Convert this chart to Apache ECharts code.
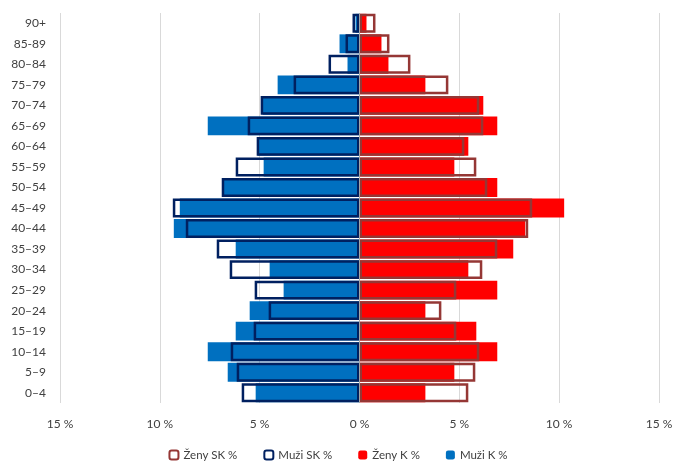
<!DOCTYPE html>
<html><head><meta charset="utf-8">
<script src="https://cdn.jsdelivr.net/npm/echarts@6/dist/echarts.min.js"></script>
<style>html,body{margin:0;padding:0;background:#fff}#c{width:676px;height:462px}</style>
</head><body><div id="c"></div>
<script>
const categories = ['0–4','5–9','10–14','15–19','20–24','25–29','30–34','35–39','40–44','45–49','50–54','55–59','60–64','65–69','70–74','75–79','80–84','85-89','90+'];
const muziK  = [5.2,6.6,7.6,6.2,5.5,3.8,4.5,6.2,9.3,9.0,6.8,4.8,5.1,7.6,4.85,4.1,0.6,1.0,0.2];
const muziSK = [5.9,6.15,6.45,5.3,4.55,5.25,6.5,7.15,8.7,9.35,6.9,6.2,5.15,5.6,4.95,3.3,1.55,0.7,0.35];
const zenyK  = [3.3,4.75,6.9,5.85,3.3,6.9,5.45,7.7,8.3,10.25,6.9,4.75,5.45,6.9,6.2,3.3,1.45,1.1,0.35];
const zenySK = [5.45,5.8,6.0,4.85,4.1,4.85,6.15,6.9,8.45,8.65,6.4,5.85,5.25,6.2,6.0,4.45,2.55,1.5,0.8];

const neg = a => a.map(v => -v);
const font = 'Lato, "Open Sans", sans-serif';
const chart = echarts.init(document.getElementById('c'));
chart.setOption({
  animation: false,
  textStyle: {fontFamily: font},
  grid: {left: 60, right: 17, top: 13, bottom: 59},
  xAxis: {
    type: 'value', min: -15, max: 15, interval: 5,
    axisLine: {show: false}, axisTick: {show: false},
    splitLine: {lineStyle: {color: '#d9d9d9', width: 1}},
    axisLabel: {formatter: v => Math.abs(v) + ' %', color: '#404040', fontSize: 12, fontFamily: font, margin: 15}
  },
  yAxis: {
    type: 'category', data: categories,
    axisLine: {show: false}, axisTick: {show: false},
    axisLabel: {color: '#404040', fontSize: 12, fontFamily: font, margin: 14}
  },
  legend: {
    bottom: 1, left: 'center', padding: 0, itemWidth: 9, itemHeight: 9, itemGap: 26,
    textStyle: {color: '#404040', fontSize: 11.5, fontFamily: font},
    data: ['Ženy SK %', 'Muži SK %', 'Ženy K %', 'Muži K %']
  },
  series: [
    {name: 'Muži K %', type: 'bar', data: neg(muziK), barGap: '-100%', barCategoryGap: '8%',
     itemStyle: {color: '#0070C0'},
     markLine: {silent: true, symbol: 'none', label: {show: false}, lineStyle: {color: '#a6a6a6', width: 1, type: 'solid'}, data: [{xAxis: 0}]}},
    {name: 'Ženy K %', type: 'bar', data: zenyK, barGap: '-100%', barCategoryGap: '8%',
     itemStyle: {color: '#FF0000'}},
    {name: 'Muži SK %', type: 'bar', data: neg(muziSK), barGap: '-100%', barCategoryGap: '8%',
     itemStyle: {color: 'rgba(0,0,0,0)', borderColor: '#002060', borderWidth: 2.5}},
    {name: 'Ženy SK %', type: 'bar', data: zenySK, barGap: '-100%', barCategoryGap: '8%',
     itemStyle: {color: 'rgba(0,0,0,0)', borderColor: '#953735', borderWidth: 2.5}}
  ]
});
</script></body></html>
